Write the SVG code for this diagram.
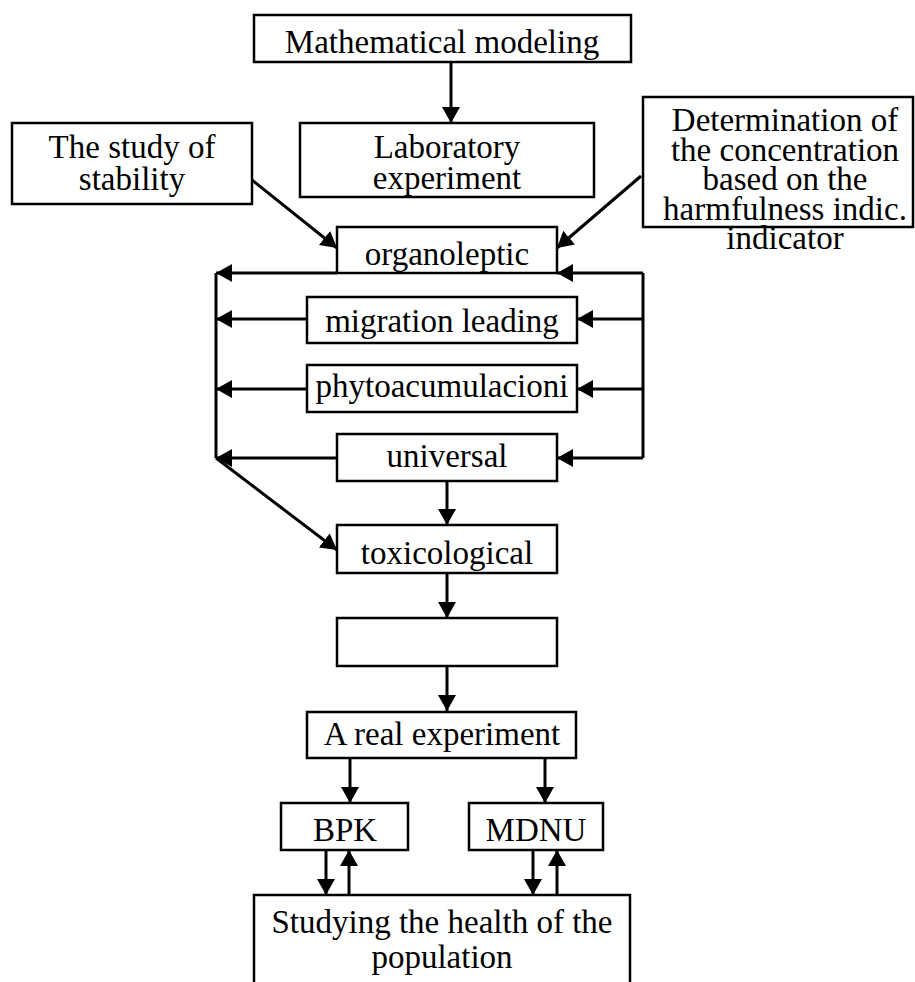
<svg xmlns="http://www.w3.org/2000/svg" width="915" height="982" viewBox="0 0 915 982">
<style>
.box{fill:#fff;stroke:#000;stroke-width:2.5}
.t{font-family:"Liberation Serif","Times New Roman",serif;font-size:33px;fill:#000;text-anchor:middle}
.c{fill:none;stroke:#000;stroke-width:3;marker-end:url(#ah)}
.l{fill:none;stroke:#000;stroke-width:3}
</style>
<defs>
<marker id="ah" markerUnits="userSpaceOnUse" markerWidth="18" markerHeight="18" refX="16" refY="9" orient="auto">
<path d="M0,0 L16,9 L0,18 z" fill="#000"/>
</marker>
</defs>
<rect width="915" height="982" fill="#fff"/>
<g id="connectors">
<line class="c" x1="451" y1="62" x2="451" y2="123"/>
<line class="c" x1="252" y1="180" x2="337" y2="248"/>
<line class="c" x1="641" y1="176" x2="557" y2="248"/>
<line class="c" x1="337" y1="273" x2="216" y2="273"/>
<line class="c" x1="643" y1="273" x2="557" y2="273"/>
<line class="l" x1="643" y1="273" x2="643" y2="458"/>
<polyline class="l" points="216,273 216,458"/>
<line class="c" x1="307" y1="319" x2="216" y2="319"/>
<line class="c" x1="643" y1="319" x2="577" y2="319"/>
<line class="c" x1="307" y1="389" x2="216" y2="389"/>
<line class="c" x1="643" y1="389" x2="577" y2="389"/>
<line class="c" x1="337" y1="458" x2="216" y2="458"/>
<line class="c" x1="643" y1="458" x2="557" y2="458"/>
<line class="c" x1="216" y1="458" x2="337" y2="550"/>
<line class="c" x1="447" y1="481" x2="447" y2="525"/>
<line class="c" x1="447" y1="573" x2="447" y2="618"/>
<line class="c" x1="447" y1="666" x2="447" y2="711"/>
<line class="c" x1="350" y1="758" x2="350" y2="803"/>
<line class="c" x1="545" y1="758" x2="545" y2="803"/>
<line class="c" x1="326" y1="850" x2="326" y2="895"/>
<line class="c" x1="349" y1="895" x2="349" y2="850"/>
<line class="c" x1="533" y1="850" x2="533" y2="895"/>
<line class="c" x1="557" y1="895" x2="557" y2="850"/>
</g>
<g id="math">
<rect class="box" x="254" y="15" width="377" height="47"/>
<text class="t" x="442" y="53">Mathematical modeling</text>
</g>
<g id="lab">
<rect class="box" x="300" y="123" width="294" height="74"/>
<text class="t" x="447" y="158">Laboratory</text>
<text class="t" x="447" y="189">experiment</text>
</g>
<g id="stability">
<rect class="box" x="12" y="123" width="240" height="81"/>
<text class="t" x="132" y="158">The study of</text>
<text class="t" x="132" y="190">stability</text>
</g>
<g id="determination">
<rect class="box" x="643" y="97" width="270" height="130"/>
<text class="t" x="785" y="131">Determination of</text>
<text class="t" x="785" y="160.5">the concentration</text>
<text class="t" x="785" y="190">based on the</text>
<text class="t" x="785" y="219.5">harmfulness indic.</text>
<text class="t" x="785" y="249">indicator</text>
</g>
<g id="organoleptic">
<rect class="box" x="337" y="227" width="220" height="46"/>
<text class="t" x="447" y="265">organoleptic</text>
</g>
<g id="migration">
<rect class="box" x="307" y="297" width="270" height="46"/>
<text class="t" x="442" y="332">migration leading</text>
</g>
<g id="phyto">
<rect class="box" x="307" y="365" width="270" height="47"/>
<text class="t" x="442" y="397">phytoacumulacioni</text>
</g>
<g id="universal">
<rect class="box" x="337" y="434" width="220" height="47"/>
<text class="t" x="447" y="467">universal</text>
</g>
<g id="toxicological">
<rect class="box" x="337" y="525" width="220" height="48"/>
<text class="t" x="447" y="564">toxicological</text>
</g>
<g id="empty">
<rect class="box" x="337" y="618" width="220" height="48"/>
</g>
<g id="real">
<rect class="box" x="307" y="712" width="269" height="46"/>
<text class="t" x="442" y="745">A real experiment</text>
</g>
<g id="bpk">
<rect class="box" x="281" y="803" width="127" height="47"/>
<text class="t" x="345" y="841">BPK</text>
</g>
<g id="mdnu">
<rect class="box" x="469" y="803" width="134" height="47"/>
<text class="t" x="536" y="841">MDNU</text>
</g>
<g id="health">
<rect class="box" x="254" y="895" width="376" height="120"/>
<text class="t" x="442" y="933">Studying the health of the</text>
<text class="t" x="442" y="968">population</text>
</g>
</svg>
